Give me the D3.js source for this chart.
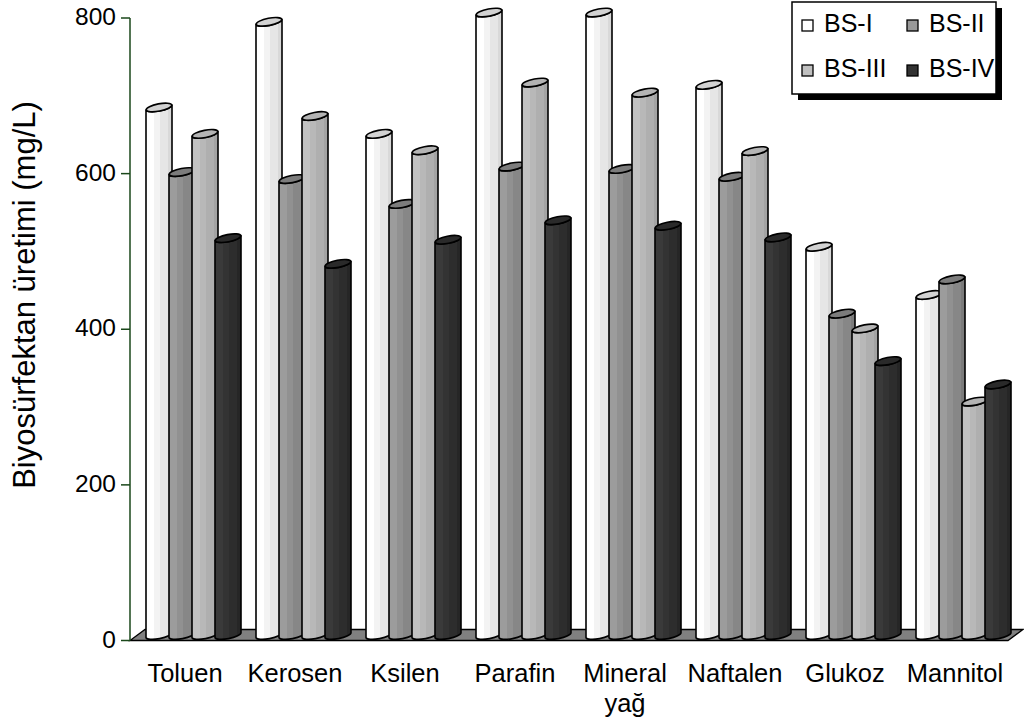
<!DOCTYPE html>
<html>
<head>
<meta charset="utf-8">
<script src="https://cdn.jsdelivr.net/npm/d3@7"></script>
<style>
  html, body { margin: 0; padding: 0; background: #fff; }
  svg { display: block; font-family: "Liberation Sans", Arial, sans-serif; }
</style>
</head>
<body>
<svg id="chart" width="1024" height="728"></svg>
<script>
// Biosurfactant production per carbon source, four strains
const categories = ["Toluen", "Kerosen", "Ksilen", "Parafin", "Mineral yağ", "Naftalen", "Glukoz", "Mannitol"];
const series = ["BS-I", "BS-II", "BS-III", "BS-IV"];
const bsI   = [678, 788, 644, 800, 800, 707, 499, 437];
const bsII  = [595, 586, 554, 602, 599, 589, 413, 457];
const bsIII = [644, 667, 623, 710, 697, 622, 394, 300];
const bsIV  = [510, 477, 508, 533, 526, 511, 352, 322];
const yTicks = [0, 200, 400, 600, 800];
const yTitle = "Biyosürfektan üretimi (mg/L)";

const seriesValues = [bsI, bsII, bsIII, bsIV];

// shading bands per series: body gradient stops and cap colour
const styles = [
  { swatch: "#ffffff", cap: "#d2d2d2", bands: ["#ffffff", "#f3f3f3", "#e6e6e6", "#d9d9d9"] },
  { swatch: "#999999", cap: "#7c7c7c", bands: ["#9c9c9c", "#919191", "#878787", "#7b7b7b"] },
  { swatch: "#c0c0c0", cap: "#b4b4b4", bands: ["#c2c2c2", "#b8b8b8", "#afafaf", "#a4a4a4"] },
  { swatch: "#333333", cap: "#2a2a2a", bands: ["#3a3a3a", "#333333", "#2d2d2d", "#262626"] }
];

const svg = d3.select("#chart");
const FONT = 24.5;
const CAT_FONT = 25.5;
const LEG_FONT = 25;
const TITLE_FONT = 31;

const plotLeft = 130, plotRight = 1010;
const y = d3.scaleLinear().domain([0, 800]).range([640.5, 18]);
const x0 = d3.scaleBand().domain(categories).range([plotLeft, plotRight]).padding(0);
const x1 = d3.scaleBand().domain(series).range([16, 16 + 92]).padding(0);
const barW = x1.bandwidth() + 3;
const depthX = 15, depthY = 11;          // floor depth offset
const midY = depthY / 2;

// gradients
const defs = svg.append("defs");
styles.forEach((s, i) => {
  const g = defs.append("linearGradient").attr("id", "grad" + i)
    .attr("x1", "0").attr("x2", "1").attr("y1", "0").attr("y2", "0");
  const edges = [0, 0.32, 0.55, 0.85, 1];
  s.bands.forEach((c, k) => {
    g.append("stop").attr("offset", edges[k]).attr("stop-color", c);
    g.append("stop").attr("offset", edges[k + 1]).attr("stop-color", c);
  });
});

// floor
const floorY = y(0);
svg.append("path")
  .attr("d", `M${plotLeft},${floorY} L${plotRight - 2},${floorY} L${plotRight - 2 + depthX},${floorY - depthY} L${plotLeft + depthX},${floorY - depthY} Z`)
  .attr("fill", "#808080").attr("stroke", "#000").attr("stroke-width", 1.3);

// y axis
const axisG = svg.append("g");
axisG.append("line")
  .attr("x1", plotLeft).attr("x2", plotLeft)
  .attr("y1", y(800)).attr("y2", y(0))
  .attr("stroke", "#1a471a").attr("stroke-width", 1.5);
yTicks.forEach(t => {
  axisG.append("line")
    .attr("x1", plotLeft - 9).attr("x2", plotLeft)
    .attr("y1", y(t)).attr("y2", y(t))
    .attr("stroke", "#1a471a").attr("stroke-width", 1.5);
  axisG.append("text")
    .attr("x", 116).attr("y", y(t) + 7)
    .attr("text-anchor", "end").attr("font-size", FONT).attr("fill", "#000")
    .text(t);
});

svg.append("text")
  .attr("transform", "translate(35,295) rotate(-90)")
  .attr("text-anchor", "middle").attr("font-size", TITLE_FONT).attr("fill", "#000")
  .text(yTitle);

// cylinders
const rx = 13, ry = 3.6, tilt = -11, dy = 2.5;
categories.forEach((cat, ci) => {
  series.forEach((sName, si) => {
    const v = seriesValues[si][ci];
    const left = x0(cat) + x1(sName);
    const cx = left + barW / 2;
    const yTop = y(v) - midY;
    const yBot = y(0) - midY;
    const r = barW / 2;
    const body =
      `M${cx - r},${yTop + dy} L${cx - r},${yBot + dy} ` +
      `A${rx},${ry} ${tilt} 0 0 ${cx + r},${yBot - dy} ` +
      `L${cx + r},${yTop - dy} ` +
      `A${rx},${ry} ${tilt} 0 1 ${cx - r},${yTop + dy} Z`;
    svg.append("path")
      .attr("d", body)
      .attr("fill", `url(#grad${si})`)
      .attr("stroke", "#000").attr("stroke-width", 1.6)
      .attr("stroke-linejoin", "round");
    svg.append("ellipse")
      .attr("cx", cx).attr("cy", yTop)
      .attr("rx", r).attr("ry", ry)
      .attr("transform", `rotate(${tilt},${cx},${yTop})`)
      .attr("fill", styles[si].cap)
      .attr("stroke", "#000").attr("stroke-width", 1.6);
  });
});

// category labels
categories.forEach(cat => {
  const t = svg.append("text")
    .attr("x", x0(cat) + x0.bandwidth() / 2)
    .attr("y", 682)
    .attr("text-anchor", "middle").attr("font-size", CAT_FONT).attr("fill", "#000");
  cat.split(" ").forEach((w, k) => {
    t.append("tspan")
      .attr("x", x0(cat) + x0.bandwidth() / 2)
      .attr("dy", k === 0 ? 0 : 30)
      .text(w);
  });
});

// legend
const lg = svg.append("g");
const lx = 792, ly = 2, lw = 204, lh = 92;
lg.append("rect").attr("x", lx + 6).attr("y", ly + 6).attr("width", lw).attr("height", lh).attr("fill", "#000");
lg.append("rect").attr("x", lx).attr("y", ly).attr("width", lw).attr("height", lh)
  .attr("fill", "#fff").attr("stroke", "#000").attr("stroke-width", 1.5);
series.forEach((sName, si) => {
  const col = si % 2, row = Math.floor(si / 2);
  const sx = 802 + col * 105;
  const base = 32 + row * 45;
  lg.append("rect")
    .attr("x", sx).attr("y", base - 12).attr("width", 11).attr("height", 11)
    .attr("fill", styles[si].swatch).attr("stroke", "#000").attr("stroke-width", 1.3);
  lg.append("text")
    .attr("x", sx + 22).attr("y", base)
    .attr("font-size", LEG_FONT).attr("fill", "#000")
    .text(sName);
});
</script>
</body>
</html>
